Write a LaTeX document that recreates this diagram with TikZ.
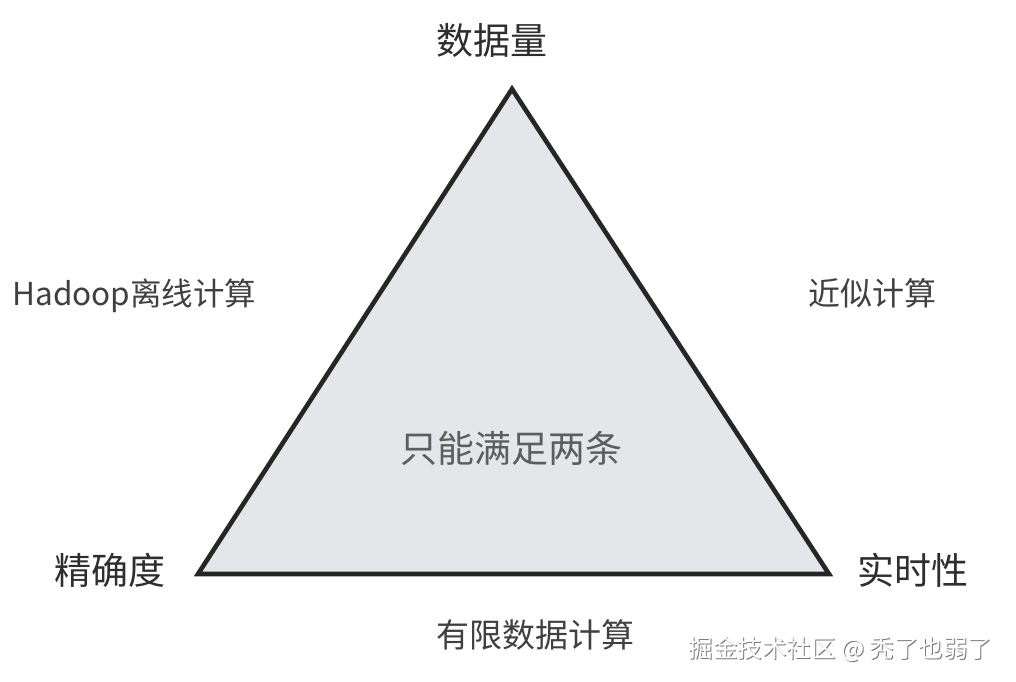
\documentclass[tikz,border=0pt]{standalone}
\usepackage{fontspec}
\newfontfamily\cjk{Noto Sans CJK SC}
\definecolor{txt}{HTML}{2E2E2E}
\definecolor{txtb}{HTML}{404040}
\definecolor{tri}{HTML}{E4E6E9}
\definecolor{edge}{HTML}{262626}
\definecolor{shad}{HTML}{7A7A7A}
\tikzset{
  lbl/.style={inner sep=0pt, text height=0.8em, text depth=0.08em, text=txt, font=\cjk\fontsize{#1}{#1}\selectfont},
  lblb/.style={lbl=#1, text=txtb},
  wm/.style={inner sep=0pt, text height=0.8em, text depth=0.08em, font=\cjk\fontsize{24.5}{24.5}\selectfont},
}
\begin{document}
\begin{tikzpicture}[x=1pt,y=-1pt]
\fill[white] (0,0) rectangle (1016,681);
\useasboundingbox (0,0) rectangle (1016,681);
\coordinate (top) at (512,89);
\coordinate (bl) at (198,574);
\coordinate (br) at (829,574);
\filldraw[fill=tri, draw=edge, line width=4.6pt, line join=miter] (top) -- (br) -- (bl) -- cycle;

\node[lbl=37] (dsl) at (492,51) {数据量};
\node[lblb=31.5] (hadoop) at (134.5,302) {Hadoop离线计算};
\node[lblb=32] (jisi) at (872,302) {近似计算};
\node[lblb=37, text=txtb!85!white] (only) at (511,459) {只能满足两条};
\node[lbl=37] (jqd) at (110,581) {精确度};
\node[lbl=37] (ssx) at (913,581) {实时性};
\node[lblb=33] (yxsj) at (535.5,644) {有限数据计算};
\node[wm, text=shad] (wms) at (841.5,655) {掘金技术社区 @ 秃了也弱了};
\node[wm, text=white] (wm) at (840.5,654) {掘金技术社区 @ 秃了也弱了};
\end{tikzpicture}
\end{document}
